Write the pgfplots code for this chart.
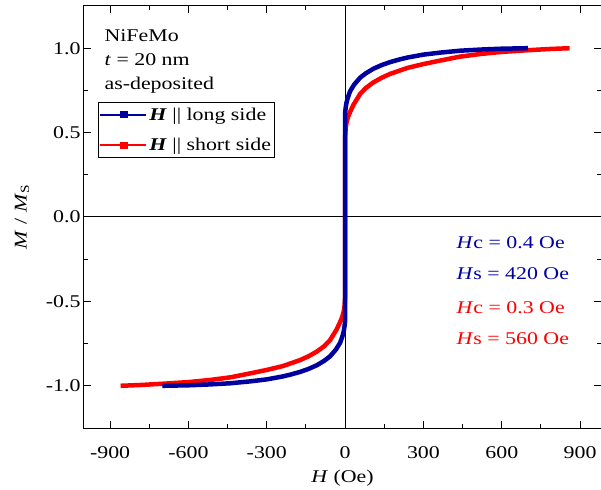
\documentclass[border=0pt]{standalone}
\usepackage{fontspec}
\setmainfont{Liberation Serif}[FakeStretch=1.22]
\usepackage{pgfplots}
\usepackage{pgfplotstable}
\pgfplotsset{compat=1.18}
\definecolor{navy}{RGB}{0,0,160}
\definecolor{redc}{RGB}{255,0,0}

% H || long side
\pgfplotstableread{
H M
-700 -1.0
-600 -0.997
-520 -0.992
-440 -0.985
-365 -0.974
-300 -0.962
-240 -0.945
-210 -0.934
-173 -0.918
-140 -0.9
-108 -0.878
-80 -0.852
-58 -0.826
-35 -0.785
-19 -0.745
-10 -0.705
-5 -0.675
-2 -0.645
-0.4 -0.62
0.4 0.62
2 0.645
5 0.675
10 0.705
19 0.745
35 0.785
58 0.826
80 0.852
108 0.878
140 0.9
173 0.918
210 0.934
240 0.945
300 0.962
365 0.974
440 0.985
520 0.992
600 0.997
700 1.0
}\longside

% H || short side
\pgfplotstableread{
H M
-860 -1.0
-780 -0.995
-700 -0.988
-600 -0.978
-520 -0.966
-440 -0.95
-365 -0.927
-300 -0.906
-238 -0.883
-173 -0.848
-140 -0.825
-108 -0.797
-80 -0.765
-58 -0.73
-32 -0.665
-20 -0.625
-13 -0.6
-6 -0.565
-2 -0.525
-0.3 -0.48
0.3 0.48
2 0.525
6 0.565
13 0.6
20 0.625
32 0.665
58 0.73
80 0.765
108 0.797
140 0.825
173 0.848
238 0.883
300 0.906
365 0.927
440 0.95
520 0.966
600 0.978
700 0.988
780 0.995
860 1.0
}\shortside

\begin{document}
\begin{tikzpicture}
\begin{axis}[
    scale only axis,
    width=517bp, height=422bp,
    xmin=-1000, xmax=980,
    ymin=-1.25, ymax=1.25,
    xtick={-900,-600,...,900},
    ytick={-1,-0.5,0,0.5,1},
    minor x tick num=1,
    minor y tick num=1,
    tick align=inside,
    major tick length=7bp,
    minor tick length=4bp,
    axis line style={line width=1bp},
    every tick/.style={black, line width=1bp},
    /pgf/number format/assume math mode=true,
    tick label style={font=\fontsize{18}{20}\selectfont},
    yticklabel style={/pgf/number format/fixed, /pgf/number format/fixed zerofill, /pgf/number format/precision=1},
    xticklabel style={yshift=-15bp},
    label style={font=\fontsize{18}{21}\selectfont},
    xlabel={\textit{H} (Oe)},
    ylabel={\textit{M} / \textit{M}\textsubscript{S}},
    xlabel style={at={(axis description cs:0.5,-0.12)}, anchor=center},
    ylabel style={at={(axis description cs:-0.12,0.5)}, anchor=center},
    reverse legend,
    legend cell align=left,
    legend style={at={(0.027,0.772)}, anchor=north west, draw=black, line width=0.8bp,
        font=\fontsize{18}{20}\selectfont, inner xsep=1bp, inner ysep=3bp, row sep=13bp},
    legend image code/.code={
        \draw[line width=2bp] (0bp,0bp) -- (46bp,0bp);
        \fill (22bp,-1.5bp) rectangle (25bp,1.5bp);
    },
]
\addplot[black, line width=1bp, forget plot] coordinates {(0,-1.25) (0,1.25)};
\addplot[black, line width=1bp, forget plot] coordinates {(-1000,0) (980,0)};

\addplot[redc, line width=4.5bp] table[x=H, y=M] {\shortside};
\addlegendentry{\textbf{\textit{H}} || short side}
\addplot[navy, line width=4.5bp] table[x=H, y=M] {\longside};
\addlegendentry{\textbf{\textit{H}} || long side}

\node[anchor=base west, font=\fontsize{18}{20}\selectfont] at (rel axis cs:0.033,0.9154) {NiFeMo};
\node[anchor=base west, font=\fontsize{18}{20}\selectfont] at (rel axis cs:0.033,0.860) {\textit{t} = 20 nm};
\node[anchor=base west, font=\fontsize{18}{20}\selectfont] at (rel axis cs:0.033,0.803) {as-deposited};
\node[anchor=base west, navy, font=\fontsize{18}{20}\selectfont] at (rel axis cs:0.714,0.4265) {\textit{H}c = 0.4 Oe};
\node[anchor=base west, navy, font=\fontsize{18}{20}\selectfont] at (rel axis cs:0.714,0.353) {\textit{H}s = 420 Oe};
\node[anchor=base west, redc, font=\fontsize{18}{20}\selectfont] at (rel axis cs:0.714,0.2725) {\textit{H}c = 0.3 Oe};
\node[anchor=base west, redc, font=\fontsize{18}{20}\selectfont] at (rel axis cs:0.714,0.1967) {\textit{H}s = 560 Oe};
\end{axis}
\pgfresetboundingbox
\path[use as bounding box] ([xshift=-84bp,yshift=-62bp]current axis.south west) rectangle ([yshift=6bp]current axis.north east);
\end{tikzpicture}
\end{document}
